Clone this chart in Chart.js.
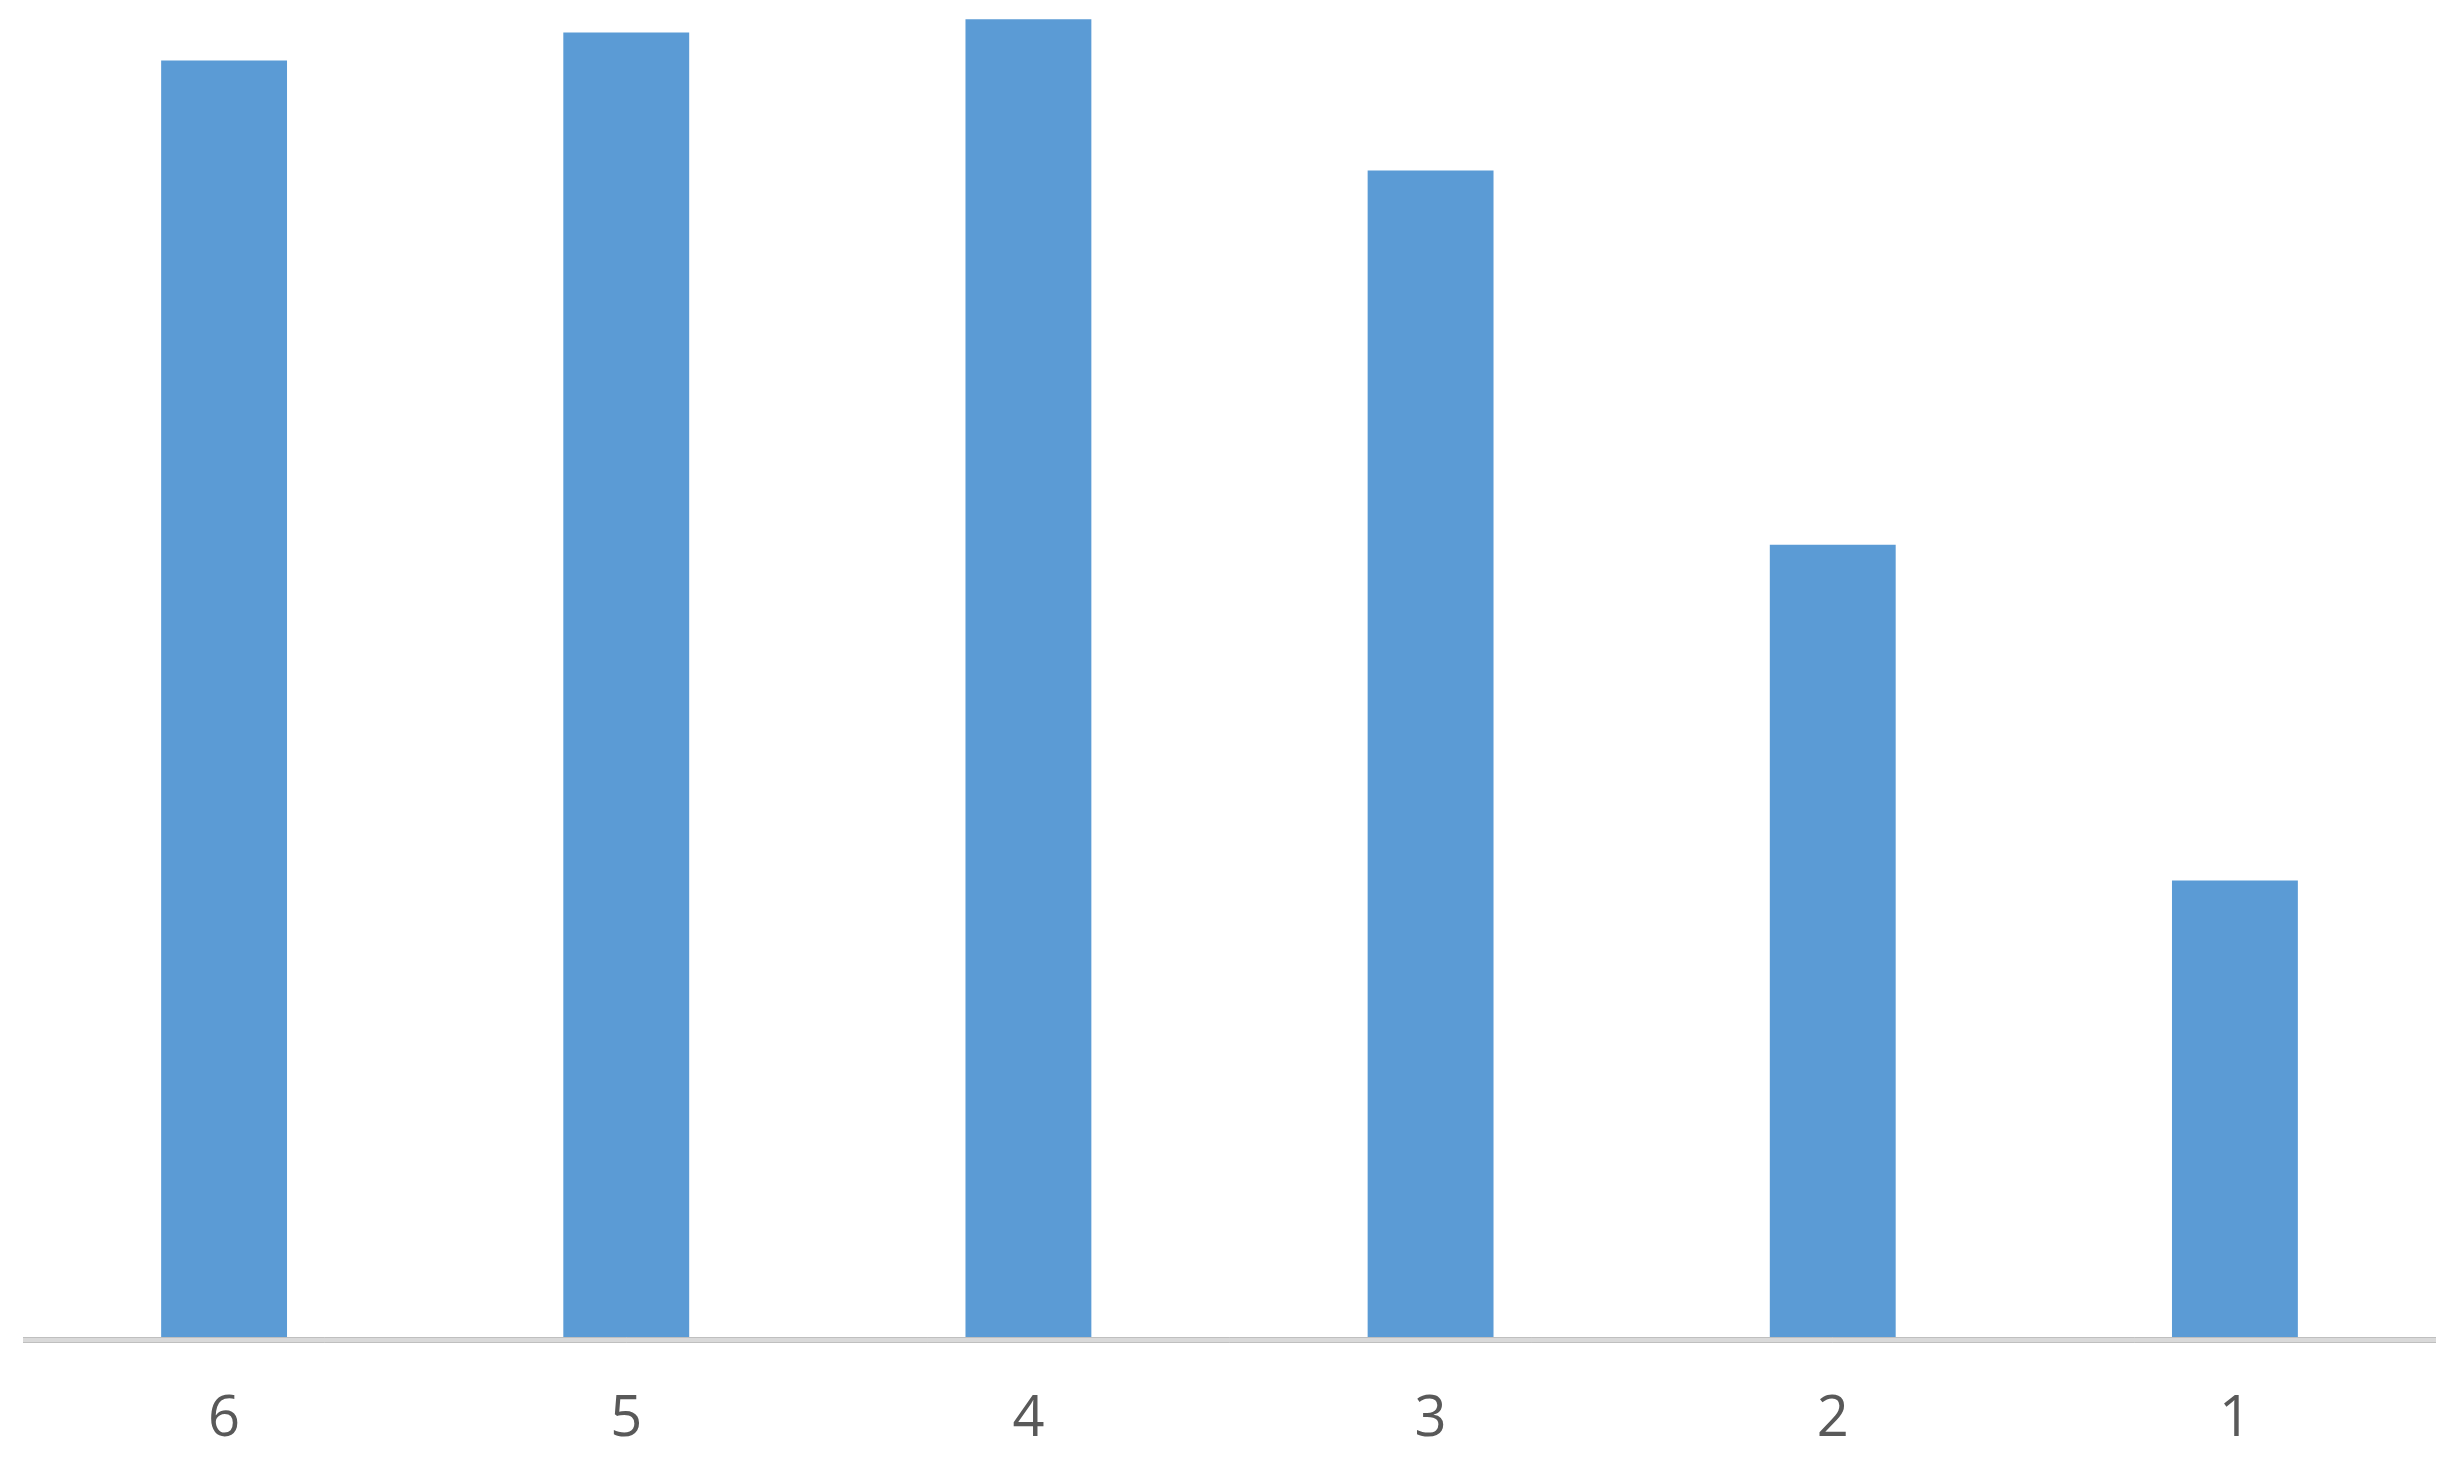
<!DOCTYPE html>
<html>
<head>
<meta charset="utf-8">
<script src="https://cdn.jsdelivr.net/npm/chart.js@4/dist/chart.umd.min.js"></script>
<style>
  html, body { margin: 0; padding: 0; background: #ffffff; }
  canvas { display: block; }
</style>
</head>
<body>
<canvas id="barChart" width="2461" height="1459"></canvas>
<script>
// categories as they show on the x axis (left to right)
const categories = ['6', '5', '4', '3', '2', '1']
// bar heights (no y axis shown, so relative units)
const values = [96.2, 98.3, 99.3, 87.9, 59.7, 34.4]
const yMax = 100

const barColor = '#5B9BD5'
const labelColor = '#595959'

// thick light gray axis line under the bars, like the excel default
const axisLinePlugin = {
  id: 'axisLine',
  afterDatasetsDraw(chart) {
    const { ctx, chartArea } = chart
    const h = 6
    ctx.save()
    ctx.fillStyle = '#d9d9d9'
    ctx.fillRect(chartArea.left, chartArea.bottom, chartArea.right - chartArea.left, h)
    ctx.strokeStyle = '#bfbfbf'
    ctx.lineWidth = 1
    ctx.beginPath()
    ctx.moveTo(chartArea.left, chartArea.bottom + 0.5)
    ctx.lineTo(chartArea.right, chartArea.bottom + 0.5)
    ctx.moveTo(chartArea.left, chartArea.bottom + h - 0.5)
    ctx.lineTo(chartArea.right, chartArea.bottom + h - 0.5)
    ctx.stroke()
    ctx.restore()
  }
}

const ctx = document.getElementById('barChart')
const chart = new Chart(ctx, {
  type: 'bar',
  data: {
    labels: categories,
    datasets: [{
      data: values,
      backgroundColor: barColor,
      borderWidth: 0,
      categoryPercentage: 1,
      barPercentage: 0.313,
    }]
  },
  options: {
    responsive: false,
    animation: false,
    devicePixelRatio: 1,
    layout: {
      padding: { left: 23, right: 25, top: 10, bottom: 10 }
    },
    plugins: {
      legend: { display: false },
      tooltip: { enabled: false },
    },
    scales: {
      x: {
        grid: { display: false, drawTicks: false, tickLength: 0 },
        border: { display: false },
        ticks: {
          color: labelColor,
          padding: 49,
          font: { family: '"Open Sans", "Noto Sans", sans-serif', size: 56 },
        },
        // chart.js counts tick padding twice when sizing, so pin the height
        afterFit: (scale) => { scale.height = 112 },
      },
      y: {
        display: false,
        min: 0,
        max: yMax,
      }
    }
  },
  plugins: [axisLinePlugin]
})
</script>
</body>
</html>
